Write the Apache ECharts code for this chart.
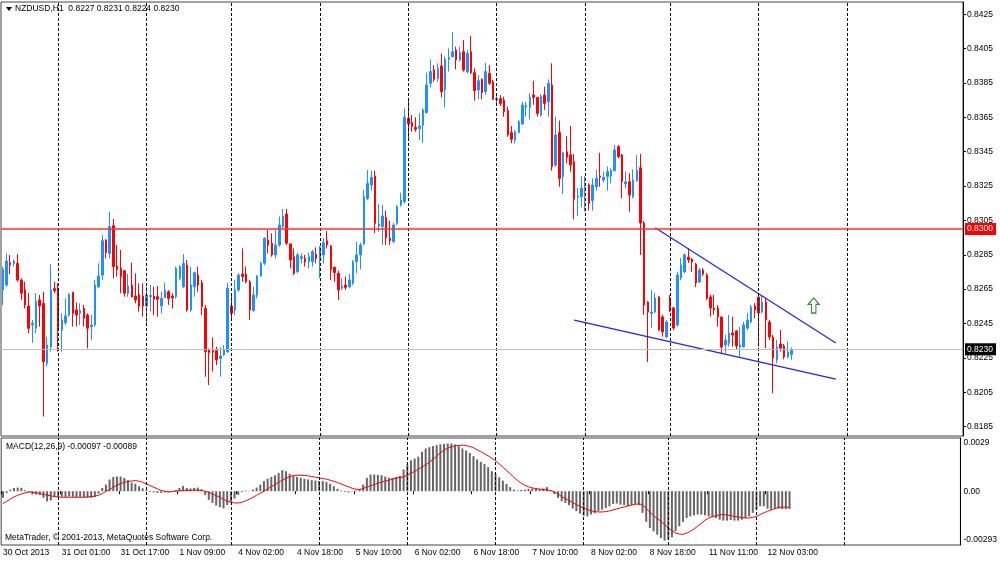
<!DOCTYPE html>
<html>
<head>
<meta charset="utf-8">
<title>NZDUSD,H1</title>
<script src="https://cdn.jsdelivr.net/npm/echarts@6/dist/echarts.min.js"></script>
<style>
html,body{margin:0;padding:0;background:#fff;}
#main{width:1000px;height:561px;}
</style>
</head>
<body>
<div id="main"></div>
<script>
var symbolName = 'NZDUSD,H1';

// hourly bars, 30 Oct 09:00 .. 12 Nov 09:00
var open = [
0.82645,0.82674,0.82804,0.82800,0.82800,0.82703,0.82645,0.82552,0.82441,0.82422,
0.82587,0.82567,0.82218,0.82315,0.82653,0.82655,0.82412,0.82455,0.82499,0.82631,
0.82529,0.82509,0.82538,0.82499,0.82432,0.82441,0.82664,0.82732,0.82936,0.82858,
0.83019,0.82785,0.82771,0.82757,0.82626,0.82674,0.82610,0.82616,0.82610,0.82552,
0.82606,0.82610,0.82606,0.82552,0.82602,0.82635,0.82610,0.82606,0.82713,0.82664,
0.82790,0.82529,0.82664,0.82732,0.82688,0.82538,0.82300,0.82292,0.82292,0.82247,
0.82267,0.82286,0.82552,0.82529,0.82645,0.82738,0.82738,0.82693,0.82525,0.82616,
0.82726,0.82800,0.82936,0.82917,0.82849,0.82907,0.83014,0.83087,0.82913,0.82839,
0.82752,0.82829,0.82829,0.82810,0.82810,0.82853,0.82823,0.82849,0.82932,0.82901,
0.82777,0.82742,0.82655,0.82674,0.82664,0.82684,0.82810,0.82849,0.82913,0.83178,
0.83256,0.83308,0.83017,0.83014,0.83068,0.82946,0.82926,0.83033,0.83140,0.83159,
0.83644,0.83619,0.83592,0.83584,0.83605,0.83677,0.83848,0.83925,0.83877,0.83949,
0.83809,0.83987,0.84003,0.84042,0.83984,0.84032,0.83916,0.84032,0.83910,0.83809,
0.83871,0.83799,0.83906,0.83857,0.83751,0.83759,0.83751,0.83689,0.83561,0.83518,
0.83561,0.83611,0.83708,0.83708,0.83780,0.83766,0.83663,0.83780,0.83741,0.83838,
0.83372,0.83561,0.83305,0.83450,0.83431,0.83392,0.83184,0.83188,0.83227,0.83256,
0.83165,0.83246,0.83308,0.83285,0.83305,0.83308,0.83340,0.83479,0.83431,0.83262,
0.83275,0.83188,0.83281,0.83357,0.83035,0.82575,0.82509,0.82517,0.82604,0.82488,
0.82372,0.82598,0.82540,0.82441,0.82715,0.82750,0.82837,0.82825,0.82796,0.82692,
0.82761,0.82732,0.82604,0.82540,0.82540,0.82488,0.82325,0.82337,0.82395,0.82407,
0.82313,0.82313,0.82424,0.82459,0.82552,0.82604,0.82517,0.82575,0.82459,0.82371,
0.82238,0.82331,0.82319,0.82255,0.82270
];
var high = [
0.82781,0.82858,0.82849,0.82823,0.82854,0.82713,0.82693,0.82629,0.82470,0.82626,
0.82616,0.82635,0.82373,0.82794,0.82693,0.82684,0.82509,0.82596,0.82626,0.82635,
0.82571,0.82567,0.82558,0.82509,0.82499,0.82703,0.82800,0.82965,0.82940,0.83101,
0.83058,0.82907,0.82878,0.82761,0.82738,0.82804,0.82742,0.82684,0.82684,0.82664,
0.82674,0.82664,0.82668,0.82635,0.82688,0.82645,0.82626,0.82781,0.82790,0.82854,
0.82820,0.82781,0.82752,0.82781,0.82703,0.82558,0.82305,0.82369,0.82315,0.82311,
0.82325,0.82688,0.82616,0.82703,0.82742,0.82887,0.82781,0.82703,0.82664,0.82732,
0.82810,0.82951,0.82994,0.82975,0.82994,0.83072,0.83116,0.83116,0.82917,0.82887,
0.82862,0.82858,0.82849,0.82862,0.82878,0.82893,0.82901,0.82946,0.82988,0.82907,
0.82781,0.82757,0.82713,0.82723,0.82738,0.82820,0.82926,0.82920,0.83227,0.83343,
0.83340,0.83340,0.83146,0.83140,0.83107,0.83049,0.83037,0.83140,0.83211,0.83702,
0.83751,0.83663,0.83650,0.83673,0.83702,0.83910,0.83987,0.83954,0.83964,0.84022,
0.84003,0.84051,0.84145,0.84061,0.84061,0.84100,0.84042,0.84123,0.83935,0.83896,
0.83877,0.83968,0.83954,0.83867,0.83790,0.83780,0.83770,0.83712,0.83599,0.83576,
0.83634,0.83741,0.83741,0.83790,0.83863,0.83770,0.83786,0.83828,0.83871,0.83964,
0.83654,0.83631,0.83450,0.83541,0.83599,0.83437,0.83237,0.83308,0.83308,0.83266,
0.83295,0.83347,0.83444,0.83334,0.83363,0.83353,0.83489,0.83489,0.83437,0.83334,
0.83324,0.83347,0.83431,0.83437,0.83046,0.82580,0.82645,0.82628,0.82610,0.82500,
0.82471,0.82616,0.82548,0.82752,0.82831,0.82860,0.82889,0.82831,0.82802,0.82773,
0.82773,0.82744,0.82616,0.82616,0.82558,0.82490,0.82383,0.82500,0.82490,0.82412,
0.82431,0.82460,0.82511,0.82558,0.82568,0.82616,0.82616,0.82597,0.82471,0.82383,
0.82354,0.82412,0.82331,0.82344,0.82310
];
var low = [
0.82558,0.82664,0.82738,0.82781,0.82693,0.82587,0.82538,0.82393,0.82338,0.82393,
0.82432,0.81908,0.82199,0.82286,0.82626,0.82286,0.82286,0.82441,0.82490,0.82432,
0.82432,0.82441,0.82432,0.82305,0.82354,0.82432,0.82655,0.82703,0.82829,0.82829,
0.82713,0.82723,0.82626,0.82606,0.82606,0.82600,0.82567,0.82519,0.82490,0.82441,
0.82519,0.82499,0.82490,0.82509,0.82596,0.82558,0.82538,0.82596,0.82703,0.82655,
0.82519,0.82519,0.82606,0.82635,0.82499,0.82141,0.82092,0.82170,0.82208,0.82141,
0.82261,0.82280,0.82480,0.82499,0.82635,0.82693,0.82684,0.82470,0.82519,0.82596,
0.82723,0.82790,0.82858,0.82839,0.82829,0.82897,0.83004,0.82907,0.82771,0.82732,
0.82742,0.82800,0.82781,0.82771,0.82781,0.82800,0.82713,0.82800,0.82887,0.82703,
0.82693,0.82587,0.82645,0.82645,0.82655,0.82674,0.82742,0.82765,0.82907,0.83169,
0.83223,0.82975,0.82984,0.82907,0.82907,0.82907,0.82920,0.83023,0.83130,0.83149,
0.83528,0.83566,0.83566,0.83518,0.83502,0.83673,0.83825,0.83857,0.83857,0.83766,
0.83708,0.83916,0.83999,0.83929,0.83974,0.83916,0.83906,0.83902,0.83747,0.83755,
0.83755,0.83780,0.83838,0.83751,0.83728,0.83716,0.83654,0.83537,0.83499,0.83499,
0.83557,0.83605,0.83654,0.83638,0.83722,0.83654,0.83654,0.83693,0.83654,0.83340,
0.83363,0.83246,0.83204,0.83382,0.83334,0.83056,0.83076,0.83130,0.83101,0.83107,
0.83107,0.83223,0.83246,0.83270,0.83223,0.83266,0.83334,0.83411,0.83178,0.83237,
0.83101,0.83178,0.83275,0.82849,0.82500,0.82226,0.82424,0.82511,0.82408,0.82373,
0.82366,0.82517,0.82412,0.82431,0.82703,0.82744,0.82802,0.82750,0.82662,0.82686,
0.82726,0.82587,0.82490,0.82500,0.82431,0.82277,0.82277,0.82315,0.82315,0.82296,
0.82257,0.82311,0.82412,0.82451,0.82480,0.82315,0.82509,0.82306,0.82354,0.82044,
0.82218,0.82286,0.82242,0.82247,0.82240
];
var close = [
0.82765,0.82814,0.82790,0.82814,0.82703,0.82626,0.82558,0.82422,0.82451,0.82577,
0.82552,0.82228,0.82325,0.82645,0.82641,0.82412,0.82470,0.82494,0.82620,0.82509,
0.82499,0.82525,0.82480,0.82422,0.82441,0.82674,0.82726,0.82932,0.82862,0.83014,
0.82781,0.82765,0.82723,0.82626,0.82668,0.82606,0.82587,0.82552,0.82552,0.82616,
0.82614,0.82591,0.82591,0.82596,0.82645,0.82596,0.82600,0.82771,0.82781,0.82800,
0.82529,0.82674,0.82746,0.82674,0.82548,0.82286,0.82280,0.82284,0.82238,0.82261,
0.82296,0.82655,0.82509,0.82645,0.82732,0.82723,0.82693,0.82529,0.82616,0.82726,
0.82800,0.82946,0.82907,0.82849,0.82907,0.83023,0.83076,0.82917,0.82820,0.82742,
0.82849,0.82839,0.82810,0.82839,0.82868,0.82829,0.82893,0.82920,0.82907,0.82765,
0.82746,0.82645,0.82668,0.82660,0.82703,0.82810,0.82849,0.82907,0.83188,0.83266,
0.83299,0.83033,0.83029,0.83076,0.82951,0.82932,0.83023,0.83130,0.83169,0.83650,
0.83611,0.83596,0.83580,0.83599,0.83693,0.83838,0.83916,0.83871,0.83935,0.83799,
0.83987,0.83999,0.84032,0.83984,0.84026,0.83925,0.84022,0.83910,0.83805,0.83863,
0.83793,0.83916,0.83848,0.83755,0.83759,0.83731,0.83683,0.83547,0.83522,0.83566,
0.83625,0.83722,0.83720,0.83766,0.83766,0.83673,0.83770,0.83731,0.83848,0.83363,
0.83547,0.83295,0.83444,0.83417,0.83372,0.83173,0.83192,0.83237,0.83243,0.83149,
0.83256,0.83295,0.83301,0.83301,0.83334,0.83340,0.83460,0.83421,0.83275,0.83274,
0.83198,0.83285,0.83340,0.83035,0.82558,0.82517,0.82517,0.82598,0.82412,0.82401,
0.82459,0.82529,0.82424,0.82732,0.82790,0.82849,0.82820,0.82808,0.82686,0.82761,
0.82738,0.82598,0.82540,0.82529,0.82488,0.82313,0.82354,0.82395,0.82383,0.82319,
0.82325,0.82441,0.82470,0.82546,0.82529,0.82511,0.82575,0.82470,0.82371,0.82249,
0.82313,0.82307,0.82255,0.82284,0.82300
];

// MACD(12,26,9) main (histogram) and signal
var macdHist = [
-0.00036,-0.00009,0.00009,0.00018,0.00020,0.00018,0.00005,-0.00005,-0.00018,-0.00018,
-0.00020,-0.00036,-0.00055,-0.00050,-0.00030,-0.00033,-0.00030,-0.00031,-0.00029,-0.00031,
-0.00033,-0.00031,-0.00033,-0.00035,-0.00036,-0.00031,-0.00013,0.00018,0.00036,0.00064,
0.00078,0.00080,0.00080,0.00073,0.00060,0.00047,0.00040,0.00027,0.00016,0.00005,
-0.00004,-0.00007,-0.00009,-0.00009,-0.00007,-0.00007,-0.00004,0.00007,0.00018,0.00029,
0.00018,0.00015,0.00018,0.00020,0.00011,-0.00020,-0.00047,-0.00064,-0.00078,-0.00087,
-0.00093,-0.00075,-0.00060,-0.00040,-0.00020,-0.00005,0.00004,0.00002,0.00009,0.00020,
0.00036,0.00055,0.00069,0.00078,0.00087,0.00100,0.00115,0.00109,0.00095,0.00087,
0.00078,0.00073,0.00067,0.00064,0.00060,0.00058,0.00056,0.00056,0.00051,0.00040,
0.00027,0.00013,0.00004,-0.00004,-0.00007,-0.00002,0.00004,0.00011,0.00036,0.00073,
0.00091,0.00091,0.00089,0.00087,0.00080,0.00073,0.00073,0.00078,0.00084,0.00118,
0.00146,0.00168,0.00178,0.00188,0.00215,0.00233,0.00240,0.00246,0.00251,0.00255,
0.00258,0.00260,0.00260,0.00255,0.00246,0.00233,0.00222,0.00209,0.00191,0.00173,
0.00160,0.00149,0.00131,0.00109,0.00095,0.00076,0.00058,0.00040,0.00022,0.00009,
0.00004,0.00007,0.00009,0.00013,0.00015,0.00015,0.00013,0.00015,0.00022,0.00004,
-0.00015,-0.00036,-0.00055,-0.00064,-0.00076,-0.00095,-0.00109,-0.00122,-0.00133,-0.00137,
-0.00127,-0.00120,-0.00109,-0.00100,-0.00091,-0.00082,-0.00069,-0.00067,-0.00073,-0.00076,
-0.00082,-0.00076,-0.00069,-0.00076,-0.00118,-0.00167,-0.00200,-0.00218,-0.00237,-0.00255,
-0.00269,-0.00264,-0.00251,-0.00218,-0.00191,-0.00167,-0.00146,-0.00137,-0.00131,-0.00127,
-0.00127,-0.00131,-0.00137,-0.00142,-0.00146,-0.00155,-0.00160,-0.00160,-0.00157,-0.00160,
-0.00160,-0.00155,-0.00146,-0.00137,-0.00118,-0.00100,-0.00082,-0.00082,-0.00095,-0.00100,
-0.00095,-0.00095,-0.00098,-0.00098,-0.00097
];
var macdSignal = [
-0.00067,-0.00055,-0.00042,-0.00031,-0.00022,-0.00015,-0.00009,-0.00004,-0.00005,-0.00009,
-0.00013,-0.00016,-0.00022,-0.00025,-0.00029,-0.00031,-0.00033,-0.00033,-0.00033,-0.00033,
-0.00033,-0.00033,-0.00033,-0.00031,-0.00029,-0.00027,-0.00022,-0.00013,0.00000,0.00009,
0.00022,0.00033,0.00042,0.00049,0.00053,0.00056,0.00058,0.00055,0.00049,0.00040,
0.00031,0.00022,0.00013,0.00005,0.00000,-0.00004,-0.00002,0.00000,0.00002,0.00004,
0.00005,0.00005,0.00007,0.00005,0.00004,0.00000,-0.00007,-0.00015,-0.00024,-0.00033,
-0.00044,-0.00053,-0.00060,-0.00064,-0.00064,-0.00060,-0.00053,-0.00044,-0.00033,-0.00022,
-0.00011,0.00000,0.00013,0.00025,0.00036,0.00049,0.00060,0.00071,0.00078,0.00086,
0.00087,0.00087,0.00086,0.00084,0.00080,0.00076,0.00073,0.00069,0.00066,0.00060,
0.00055,0.00047,0.00040,0.00031,0.00024,0.00016,0.00011,0.00009,0.00015,0.00022,
0.00029,0.00036,0.00044,0.00049,0.00055,0.00060,0.00066,0.00071,0.00075,0.00078,
0.00087,0.00098,0.00109,0.00120,0.00131,0.00144,0.00158,0.00173,0.00191,0.00209,
0.00224,0.00235,0.00242,0.00248,0.00249,0.00251,0.00249,0.00244,0.00237,0.00226,
0.00215,0.00204,0.00193,0.00180,0.00166,0.00149,0.00131,0.00113,0.00095,0.00076,
0.00058,0.00044,0.00033,0.00024,0.00018,0.00015,0.00011,0.00009,0.00007,0.00004,
-0.00004,-0.00015,-0.00029,-0.00040,-0.00051,-0.00062,-0.00073,-0.00082,-0.00091,-0.00100,
-0.00107,-0.00111,-0.00113,-0.00113,-0.00111,-0.00107,-0.00102,-0.00096,-0.00091,-0.00086,
-0.00080,-0.00076,-0.00071,-0.00069,-0.00073,-0.00095,-0.00113,-0.00133,-0.00149,-0.00164,
-0.00182,-0.00200,-0.00215,-0.00228,-0.00233,-0.00235,-0.00229,-0.00218,-0.00206,-0.00191,
-0.00175,-0.00158,-0.00146,-0.00138,-0.00133,-0.00129,-0.00127,-0.00129,-0.00133,-0.00137,
-0.00140,-0.00144,-0.00146,-0.00146,-0.00142,-0.00137,-0.00127,-0.00118,-0.00109,-0.00102,
-0.00095,-0.00089,-0.00087,-0.00086,-0.00089
];

var slotCount = 261;
var daySeparators = [15, 39, 62, 86, 110, 134, 158, 181, 205, 229];
var timeTickIdx = [0, 16, 32, 48, 64, 80, 96, 112, 128, 144, 160, 176, 192, 208];
var timeTickLabels = ['30 Oct 2013', '31 Oct 01:00', '31 Oct 17:00', '1 Nov 09:00', '4 Nov 02:00',
  '4 Nov 18:00', '5 Nov 10:00', '6 Nov 02:00', '6 Nov 18:00', '7 Nov 10:00', '8 Nov 02:00',
  '8 Nov 18:00', '11 Nov 11:00', '12 Nov 03:00'];
var priceTicks = [0.8185, 0.8205, 0.8225, 0.8245, 0.8265, 0.8285, 0.8305, 0.8325, 0.8345,
  0.8365, 0.8385, 0.8405, 0.8425];
var macdTicks = [0.0029, 0, -0.00293];
var macdTickLabels = ['0.0029', '0.00', '-0.00293'];
var levelLine = 0.8300;
var upperTrend = [[177, 0.83007], [226, 0.82337]];
var lowerTrend = [[155, 0.82470], [226, 0.82126]];
var arrowPoint = [[220, 0.82555]];

var chart = echarts.init(document.getElementById('main'));
var FONT = 'Liberation Sans';
var FS = 8.5;
var last = close.length - 1;

var cats = [];
for (var i = 0; i < slotCount; i++) cats.push(i);
var candles = open.map(function (o, k) { return [o, close[k], low[k], high[k]]; });

function sepLines() {
  return daySeparators.map(function (d) {
    return { xAxis: d, lineStyle: { type: [3, 2], color: '#000', width: 1 }, label: { show: false } };
  });
}
function levelMark(v, lineColor, lineWidth, boxColor) {
  return { yAxis: v, lineStyle: { type: 'solid', color: lineColor, width: lineWidth },
    label: { show: true, position: 'end', distance: 2, formatter: v.toFixed(4),
      backgroundColor: boxColor, color: '#fff', fontSize: FS, fontFamily: FONT, padding: [2, 3, 1, 2] } };
}
function isTimeTick(idx) { return timeTickIdx.indexOf(idx) >= 0; }

var titleText = symbolName + '  ' + [open[last], high[last], low[last], close[last]]
  .map(function (v) { return v.toFixed(4); }).join(' ');
var macdText = 'MACD(12,26,9) ' + macdHist[last].toFixed(5) + ' ' + macdSignal[last].toFixed(5);
var textFont = FS + 'px "' + FONT + '"';

var option = {
  animation: false,
  textStyle: { fontFamily: FONT, fontSize: FS },
  grid: [
    { left: 1, top: 2, width: 962, height: 434, show: true, borderColor: '#444', borderWidth: 1 },
    { left: 1, top: 438, width: 962, height: 107, show: true, borderColor: '#444', borderWidth: 1 }
  ],
  xAxis: [
    { gridIndex: 0, type: 'category', data: cats, boundaryGap: true,
      axisLine: { show: false }, axisTick: { show: false }, axisLabel: { show: false } },
    { gridIndex: 1, type: 'category', data: cats, boundaryGap: true,
      axisLine: { show: false },
      axisTick: { show: true, length: 3, interval: isTimeTick, lineStyle: { color: '#000' } },
      axisLabel: {
        interval: isTimeTick, align: 'left', margin: 3, color: '#000', fontSize: FS, fontFamily: FONT,
        formatter: function (v, idx) {
          var k = timeTickIdx.indexOf(idx);
          return k >= 0 ? timeTickLabels[k] : '';
        }
      } }
  ],
  yAxis: [
    { gridIndex: 0, type: 'value', position: 'right', min: 0.817953, max: 0.843211, scale: true,
      splitLine: { show: false },
      axisLine: { show: true, lineStyle: { color: '#000' } },
      axisTick: { show: true, length: 3, customValues: priceTicks, lineStyle: { color: '#000' } },
      axisLabel: { customValues: priceTicks, margin: 4, color: '#000', fontSize: FS, fontFamily: FONT,
        formatter: function (v) { return v.toFixed(4); } } },
    { gridIndex: 1, type: 'value', position: 'right', min: -0.00293, max: 0.0029,
      splitLine: { show: false },
      axisLine: { show: true, lineStyle: { color: '#000' } },
      axisTick: { show: false },
      axisLabel: { customValues: macdTicks, margin: 3, color: '#000', fontSize: FS, fontFamily: FONT,
        formatter: function (v) {
          var k = macdTicks.indexOf(v);
          if (k === 0) return '{t|' + macdTickLabels[0] + '}';
          if (k === 2) return '{b|' + macdTickLabels[2] + '}';
          return k >= 0 ? macdTickLabels[k] : '';
        },
        rich: {
          t: { padding: [10, 0, 0, 0], fontSize: FS, fontFamily: FONT, color: '#000' },
          b: { padding: [0, 0, 10, 0], fontSize: FS, fontFamily: FONT, color: '#000' }
        } } }
  ],
  series: [
    { type: 'candlestick', xAxisIndex: 0, yAxisIndex: 0, data: candles, barWidth: 2,
      itemStyle: { color: '#1E90FF', color0: '#FF0000', borderColor: '#1E90FF', borderColor0: '#FF0000',
        borderColorDoji: '#1E90FF', borderWidth: 1 },
      markLine: { symbol: ['none', 'none'], silent: true, animation: false, data: sepLines() } },
    { type: 'line', xAxisIndex: 0, yAxisIndex: 0, data: upperTrend, symbol: 'none', silent: true,
      lineStyle: { color: '#2020ff', width: 1.2 },
      markLine: { symbol: ['none', 'none'], silent: true, animation: false, precision: 5,
        data: [levelMark(close[last], '#c0c0c0', 1, '#000'), levelMark(levelLine, '#ff3030', 1.5, '#ff0000')] } },
    { type: 'line', xAxisIndex: 0, yAxisIndex: 0, data: lowerTrend, symbol: 'none', silent: true,
      lineStyle: { color: '#2020ff', width: 1.2 } },
    { type: 'scatter', xAxisIndex: 0, yAxisIndex: 0, data: arrowPoint, silent: true,
      symbol: 'path://M5,0L10,6L7,6L7,14L3,14L3,6L0,6Z', symbolSize: [11, 15],
      itemStyle: { color: '#ffffff', borderColor: '#007000', borderWidth: 1.2 } },
    { type: 'bar', xAxisIndex: 1, yAxisIndex: 1, data: macdHist, barWidth: 2,
      itemStyle: { color: '#666666' },
      markLine: { symbol: ['none', 'none'], silent: true, animation: false, data: sepLines() } },
    { type: 'line', xAxisIndex: 1, yAxisIndex: 1, data: macdSignal, symbol: 'none', silent: true,
      lineStyle: { color: '#ff0000', width: 1 } }
  ],
  graphic: [
    { type: 'polygon', shape: { points: [[6, 7], [12, 7], [9, 11]] }, style: { fill: '#000' } },
    { type: 'text', left: 15, top: 4, style: { text: titleText, fill: '#000', font: textFont } },
    { type: 'text', left: 6, top: 442, style: { text: macdText, fill: '#000', font: textFont } },
    { type: 'text', left: 5, top: 533, style: { text: 'MetaTrader, \u00a9 2001-2013, MetaQuotes Software Corp.',
      fill: '#000', font: textFont } }
  ]
};
chart.setOption(option);
</script>
</body>
</html>
